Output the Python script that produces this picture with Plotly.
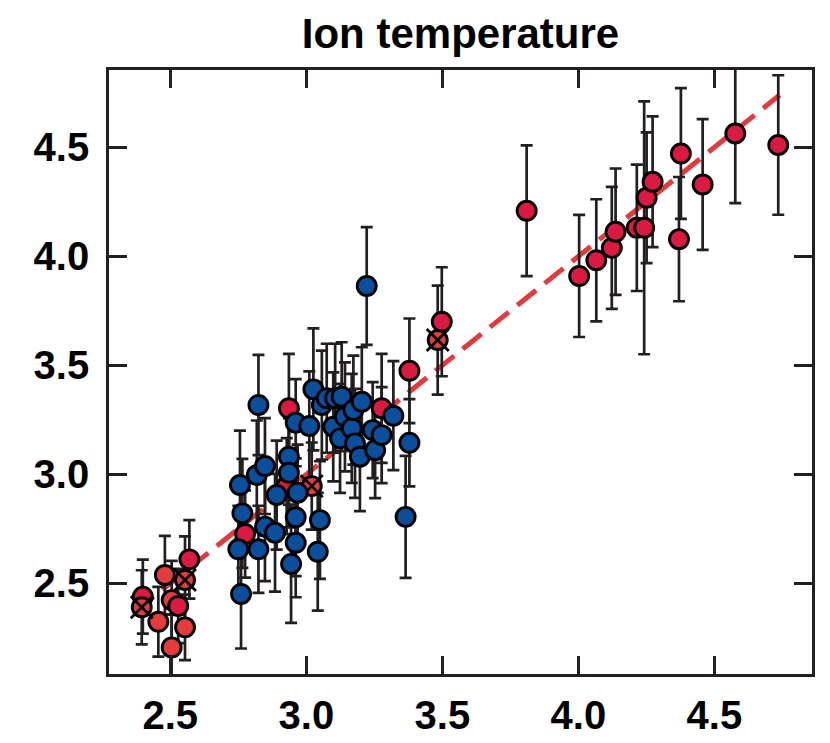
import plotly.graph_objects as go

# ---- data ----
blue_x = [2.750, 2.756, 2.760, 2.765, 2.818, 2.824, 2.824, 2.848, 2.848, 2.885, 2.891,
          2.936, 2.936, 2.944, 2.961, 2.961, 2.961, 2.968, 3.011, 3.026, 3.042, 3.050,
          3.057, 3.075, 3.099, 3.106, 3.124, 3.130, 3.142, 3.167, 3.173, 3.179, 3.197,
          3.204, 3.222, 3.244, 3.253, 3.277, 3.320, 3.365, 3.379]
blue_y = [2.656, 2.951, 2.451, 2.821, 2.997, 3.318, 2.656, 3.038, 2.760, 2.732, 2.905,
          3.081, 3.007, 2.589, 3.237, 2.803, 2.686, 2.916, 3.222, 3.390, 2.645, 2.790,
          3.318, 3.349, 3.218, 3.349, 3.165, 3.356, 3.264, 3.211, 3.295, 3.142, 3.081,
          3.333, 3.864, 3.203, 3.111, 3.180, 3.269, 2.805, 3.145]
blue_err = [0.20, 0.25, 0.25, 0.25, 0.25, 0.23, 0.20, 0.22, 0.25, 0.27, 0.25,
            0.22, 0.25, 0.27, 0.20, 0.27, 0.25, 0.22, 0.25, 0.28, 0.27, 0.27,
            0.25, 0.25, 0.25, 0.25, 0.25, 0.25, 0.25, 0.25, 0.25, 0.25, 0.25,
            0.25, 0.27, 0.22, 0.22, 0.22, 0.25, 0.28, 0.20]

red_x = [2.399, 2.529, 2.570, 2.775, 2.928, 2.936, 3.277, 3.379, 3.498, 3.810, 4.003,
         4.066, 4.123, 4.137, 4.215, 4.242, 4.251, 4.273, 4.370, 4.377, 4.457, 4.577, 4.735]
red_y = [2.439, 2.396, 2.610, 2.726, 2.946, 3.303, 3.303, 3.475, 3.700, 4.209, 3.910,
         3.982, 4.039, 4.113, 4.131, 4.131, 4.269, 4.342, 4.079, 4.472, 4.330, 4.564, 4.511]
red_err = [0.17, 0.17, 0.18, 0.20, 0.22, 0.25, 0.25, 0.24, 0.25, 0.30, 0.28,
           0.28, 0.28, 0.29, 0.29, 0.58, 0.30, 0.30, 0.285, 0.30, 0.30, 0.32, 0.32]

light_x = [2.456, 2.480, 2.505, 2.554, 2.505]
light_y = [2.324, 2.538, 2.423, 2.298, 2.206]
light_err = [0.16, 0.18, 0.18, 0.15, 0.15]

cross_x = [2.395, 2.554, 3.020, 3.483]
cross_y = [2.390, 2.515, 2.946, 3.616]
cross_err = [0.17, 0.20, 0.20, 0.25]

fit_x = [2.37, 4.74]
fit_y = [2.37, 4.74]

tick_vals = [2.5, 3.0, 3.5, 4.0, 4.5]
tick_text = ["2.5", "3.0", "3.5", "4.0", "4.5"]
title_text = "Ion temperature"

# ---- style ----
C_BLUE = "#0b4f9c"
C_RED = "#da1a40"
C_LIGHT = "#e23c3e"
C_BAR = "#231f20"
MSIZE = 19
MLINE = 2.9

# page body has an 8px margin; size the figure to fit inside the window
W, H = 822, 735

fig = go.Figure()

# fit line (behind)
fig.add_trace(go.Scatter(x=fit_x, y=fit_y, mode="lines",
                         line=dict(color="#e23b3f", width=5, dash="24px,11px"),
                         hoverinfo="skip"))

# error bars for all points (behind markers)
all_x = red_x + light_x + cross_x + blue_x
all_y = red_y + light_y + cross_y + blue_y
all_e = red_err + light_err + cross_err + blue_err
fig.add_trace(go.Scatter(x=all_x, y=all_y, mode="markers",
                         marker=dict(size=1, color="rgba(0,0,0,0)"),
                         error_y=dict(type="data", array=all_e, visible=True,
                                      color=C_BAR, thickness=2.7, width=6),
                         hoverinfo="skip"))

def pts(x, y, color):
    fig.add_trace(go.Scatter(x=x, y=y, mode="markers",
                             marker=dict(size=MSIZE, color=color,
                                         line=dict(color="black", width=MLINE))))

pts(light_x, light_y, C_LIGHT)
pts(red_x, red_y, C_RED)
pts(cross_x, cross_y, C_LIGHT)
fig.add_trace(go.Scatter(x=cross_x, y=cross_y, mode="markers",
                         marker=dict(size=22, symbol="x-thin-open", color="black",
                                     line=dict(color="black", width=2.7))))
pts(blue_x, blue_y, C_BLUE)

axis_common = dict(
    showgrid=False, zeroline=False, showline=True, mirror="allticks",
    linecolor=C_BAR, linewidth=2.6, ticks="inside", ticklen=18, tickwidth=2.6,
    tickcolor=C_BAR, tickvals=tick_vals, ticktext=tick_text, automargin=False,
    tickfont=dict(family="Liberation Sans", size=40, color="black", weight="bold"),
)

fig.update_layout(
    width=W, height=H,
    margin=dict(l=101, r=18, t=62, b=69, autoexpand=False),
    paper_bgcolor="white", plot_bgcolor="white",
    showlegend=False,
    title=dict(text=title_text, x=0.5, xref="paper", y=1 - 25 / H, yref="container",
               xanchor="center", yanchor="middle", automargin=False,
               font=dict(family="Liberation Sans", size=42, color="black", weight="bold")),
    xaxis=dict(range=[2.2746, 4.859], ticklabelstandoff=4, **axis_common),
    yaxis=dict(range=[2.084, 4.855], ticklabelstandoff=9, **axis_common),
)

fig.write_html("out.html")
